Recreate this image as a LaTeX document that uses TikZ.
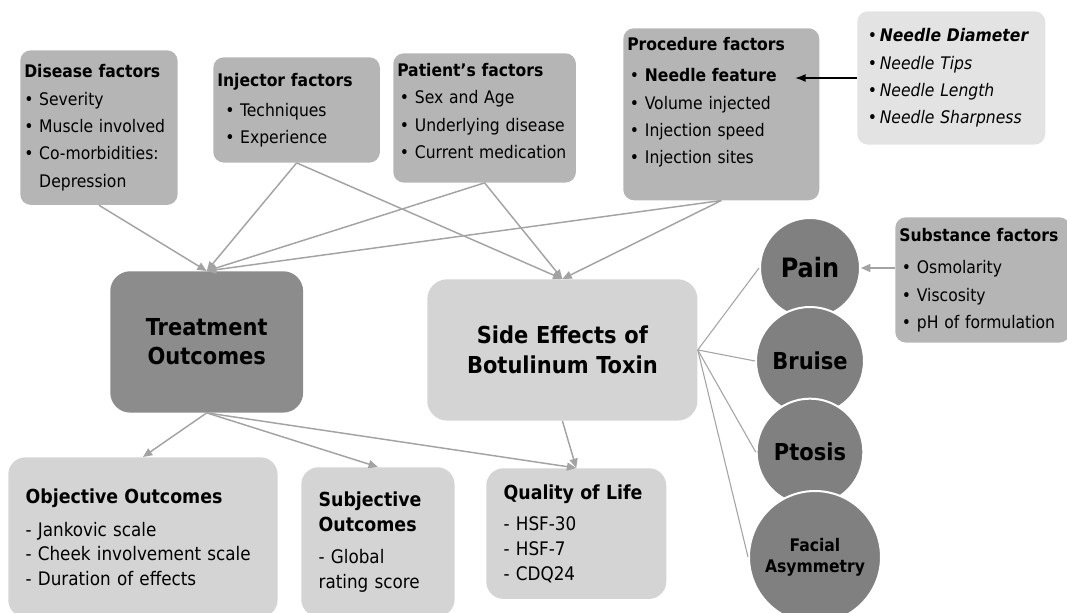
\documentclass[tikz,border=0pt]{standalone}
\usepackage{fontspec}
\setmainfont{DejaVu Sans Condensed}
\usetikzlibrary{arrows.meta}

\definecolor{boxgray}{gray}{0.71}
\definecolor{palegray}{gray}{0.83}
\definecolor{needlegray}{gray}{0.89}
\definecolor{darkbox}{gray}{0.55}
\definecolor{circgray}{gray}{0.5}
\definecolor{linkgray}{gray}{0.64}

\newcommand{\bul}{\textbullet\ }
\hyphenpenalty=10000

\begin{document}
\begin{tikzpicture}[x=0.75pt, y=-0.75pt,
        factor/.style={rectangle, rounded corners=8pt, fill=boxgray, anchor=north west,
            align=left, inner xsep=3pt, inner ysep=4pt, font=\fontsize{13}{20.5}\selectfont},
        outcome/.style={rectangle, rounded corners=13pt, fill=palegray, anchor=north west,
            align=left, inner xsep=13pt, inner ysep=4pt, font=\fontsize{14}{18.5}\selectfont},
        mainbox/.style={rectangle, rounded corners=15pt, anchor=north west, align=center,
            font=\bfseries\fontsize{17.5}{22}\selectfont},
        effect/.style={circle, fill=circgray, draw=white, line width=1.5pt, inner sep=0pt,
            font=\bfseries},
        conn/.style={draw=linkgray, line width=1.1pt, -{Triangle[length=7pt,width=6pt]}},
        link/.style={draw=linkgray, line width=0.8pt}
    ]
    \useasboundingbox (0,0) rectangle (1067,613);
    \clip (0,0) rectangle (1067,613);

    \node[factor, text width=112pt, minimum height=116pt] (dis) at (20,50)
        {\textbf{Disease factors}\\
         \bul Severity\\
         \bul Muscle involved\\
         \bul Co-morbidities:\\
         \phantom{\bul}Depression};
    \node[factor, text width=119pt, minimum height=79pt] (inj) at (213,57)
        {\textbf{Injector factors}\\[2pt]
         \hspace{6pt}\bul Techniques\\
         \hspace{6pt}\bul Experience};
    \node[factor, text width=131pt, minimum height=97pt] (pat) at (393,53)
        {\textbf{Patient’s factors}\\
         \hspace{2pt}\bul Sex and Age\\
         \hspace{2pt}\bul Underlying disease\\
         \hspace{2pt}\bul Current medication\\[-10pt]
         \mbox{}};
    \node[factor, text width=141pt, minimum height=129pt] (proc) at (623,28)
        {\textbf{Procedure factors}\\[3pt]
         \hspace{2pt}\bul \textbf{Needle feature}\\
         \hspace{2pt}\bul Volume injected\\
         \hspace{2pt}\bul Injection speed\\
         \hspace{2pt}\bul Injection sites\\
         ~};
    \node[factor, fill=needlegray, inner xsep=8pt, text width=125pt, minimum height=100pt] (needle) at (857,11)
        {\textbullet\hspace{2pt}\textbf{\textit{Needle Diameter}}\\
         \textbullet\hspace{2pt}\textit{Needle Tips}\\
         \textbullet\hspace{2pt}\textit{Needle Length}\\
         \textbullet\hspace{2pt}\textit{Needle Sharpness}};
    \node[factor, text width=125pt, minimum height=94pt] (subst) at (895,217)
        {\textbf{Substance factors}\\[4pt]
         \hspace{2pt}\bul Osmolarity\\
         \hspace{2pt}\bul Viscosity\\
         \hspace{2pt}\bul pH of formulation};

    \node[mainbox, fill=darkbox, text width=138pt, minimum height=106pt] (treat) at (110,271)
        {Treatment\\Outcomes};
    \node[mainbox, fill=palegray, text width=196pt, minimum height=106pt] (side) at (427,279)
        {Side Effects of\\Botulinum Toxin};

    \node[outcome, text width=176pt, minimum height=120pt] (obj) at (8,457)
        {\textbf{\fontsize{14.5}{18.5}\selectfont Objective Outcomes}\\[6pt]
         - Jankovic scale\\
         - Cheek involvement scale\\
         - Duration of effects};
    \node[outcome, text width=89pt, minimum height=112pt] (subj) at (301,467)
        {\textbf{\fontsize{14.5}{21}\selectfont Subjective\\Outcomes}\\[6pt]
         - Global\\
         rating score};
    \node[outcome, text width=109pt, minimum height=98pt] (qol) at (486,468)
        {\textbf{\fontsize{14.5}{18.5}\selectfont Quality of Life}\\[5pt]
         - HSF-30\\
         - HSF-7\\
         - CDQ24};

    \draw[conn] (dis.south) -- (treat.north);
    \foreach \f in {inj,pat,proc}
        {
            \draw[conn] (\f.south) -- (treat.north);
            \draw[conn] (\f.south) -- (side.north);
        }
    \foreach \o in {obj,subj,qol}
        {
            \draw[conn] (treat.south) -- (\o.north);
        }
    \draw[conn] (side.south) -- (qol.north);

    \node[effect, minimum size=75pt, font=\bfseries\fontsize{20}{24}\selectfont] (pain) at (810,268) {Pain};
    \node[effect, minimum size=81pt, font=\bfseries\fontsize{17.5}{21}\selectfont] (bruise) at (810,361) {Bruise};
    \node[effect, minimum size=80pt, font=\bfseries\fontsize{17.5}{21}\selectfont] (ptosis) at (810,452) {Ptosis};
    \node[effect, minimum size=99pt, align=center, font=\bfseries\fontsize{13}{16}\selectfont] (facial) at (815,557) {Facial\\Asymmetry};

    \foreach \c in {pain,bruise,ptosis,facial}
        {
            \draw[link] (side.east) -- (\c.west);
        }

    \draw[conn] (subst.west |- pain.east) -- (pain.east);

    \coordinate (feature) at (795,78);
    \draw[line width=1.2pt, -{Latex[length=8pt,width=6pt]}] (needle.west |- feature) -- (feature);
\end{tikzpicture}
\end{document}
